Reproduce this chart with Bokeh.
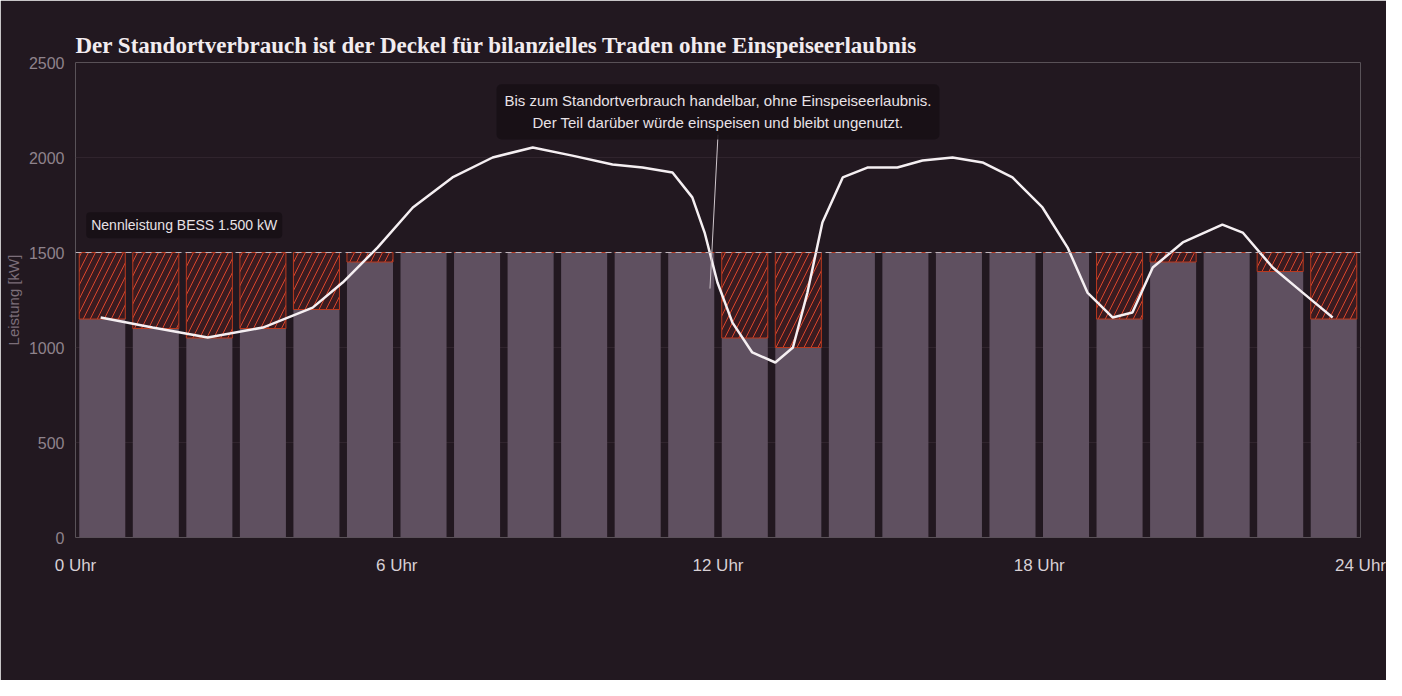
from bokeh.plotting import figure
from bokeh.models import (ColumnDataSource, Label, Legend, LegendItem, Span,
                          FixedTicker, Range1d)
from bokeh.embed import file_html
from bokeh.resources import INLINE

hours = list(range(24))
usable = [1150, 1100, 1050, 1100, 1200, 1450, 1500, 1500, 1500, 1500, 1500, 1500,
          1050, 1000, 1500, 1500, 1500, 1500, 1500, 1150, 1450, 1500, 1400, 1150]
capacity = 1500
line_h = [0.47, 1.44, 2.47, 3.5, 4.43, 4.99, 5.64, 6.3, 7.04, 7.79, 8.54, 9.28, 10.03,
          10.59, 11.15, 11.52, 11.75, 11.99, 12.27, 12.64, 13.07, 13.4, 13.67, 13.95,
          14.33, 14.79, 15.35, 15.82, 16.38, 16.94, 17.5, 18.06, 18.53, 18.9, 19.37,
          19.74, 20.12, 20.68, 21.42, 21.8, 22.36, 22.92, 23.48]
line_v = [1158, 1105, 1053, 1105, 1210, 1342, 1526, 1737, 1895, 2000, 2053, 2010, 1963,
          1947, 1921, 1790, 1605, 1342, 1131, 974, 921, 1000, 1289, 1658,
          1895, 1947, 1947, 1984, 2000, 1974, 1895, 1737, 1526, 1289, 1158,
          1184, 1421, 1553, 1647, 1605, 1421, 1289, 1158]
x_ticks = [0, 6, 12, 18, 24]
x_labels = ["0 Uhr", "6 Uhr", "12 Uhr", "18 Uhr", "24 Uhr"]

BG = "#221820"
p = figure(width=1386, height=680, output_backend="svg", toolbar_location=None,
           x_range=Range1d(0, 24), y_range=Range1d(0, 2500),
           title="Der Standortverbrauch ist der Deckel für bilanzielles Traden ohne Einspeiseerlaubnis",
           min_border_left=75, min_border_right=26, min_border_top=62, min_border_bottom=143,
           background_fill_color=BG, border_fill_color=BG, outline_line_color=None)
p.title.text_font = "Liberation Serif"
p.title.text_font_size = "23px"
p.title.text_color = "#f2ecef"
p.title.offset = 0

src = ColumnDataSource(dict(x=[h + 0.5 for h in hours], top=usable,
                            cap=[capacity] * 24))
r_use = p.vbar(x="x", top="top", bottom=0, width=0.86, source=src,
               fill_color="#5f5060", line_color=None)
r_hatch = p.vbar(x="x", top="cap", bottom="top", width=0.86, source=src,
                 fill_color="#3a1b20", line_color="#b8391f", line_width=1,
                 hatch_pattern="/", hatch_color="#d9452b", hatch_scale=14, hatch_weight=1)
p.add_layout(Span(location=capacity, dimension="width", line_color="#bdb3ba",
                  line_dash="6 4", line_width=1.2))
r_line = p.line(line_h, line_v, line_color="#f5eff2", line_width=2.5)

p.add_layout(Label(x=0.2, y=1575, text="Nennleistung BESS 1.500 kW",
                   text_color="#e8e2e6", text_font="Liberation Sans", text_font_size="14px",
                   background_fill_color="#160f15", background_fill_alpha=0.85,
                   padding=5, border_radius=4, text_baseline="bottom"))
p.add_layout(Label(x=12.0, y=2240,
                   text="Bis zum Standortverbrauch handelbar, ohne Einspeiseerlaubnis.\nDer Teil darüber würde einspeisen und bleibt ungenutzt.",
                   text_align="center", text_baseline="middle",
                   text_color="#e8e2e6", text_font="Liberation Sans", text_font_size="15px",
                   background_fill_color="#160f15", background_fill_alpha=0.85,
                   padding=8, border_radius=5, text_line_height=1.3))
seg = ColumnDataSource(dict(x0=[12.0], y0=[2120], x1=[11.85], y1=[1310]))
p.segment("x0", "y0", "x1", "y1", source=seg, line_color="#cfc6cc", line_width=1)

p.xaxis.ticker = FixedTicker(ticks=x_ticks)
p.xaxis.major_label_overrides = {t: l for t, l in zip(x_ticks, x_labels)}
p.yaxis.ticker = FixedTicker(ticks=[0, 500, 1000, 1500, 2000, 2500])
for ax in (p.xaxis, p.yaxis):
    ax.axis_line_color = None
    ax.major_tick_line_color = None
    ax.minor_tick_line_color = None
    ax.major_label_text_font = "Liberation Sans"
p.xaxis.major_label_text_font_size = "17px"
p.xaxis.major_label_text_color = "#d8d0d5"
p.xaxis.major_label_standoff = 12
p.yaxis.major_label_text_font_size = "16px"
p.yaxis.major_label_text_color = "#8f838c"
p.yaxis.axis_label = "Leistung [kW]"
p.yaxis.axis_label_text_color = "#7c6e79"
p.yaxis.axis_label_text_font = "Liberation Sans"
p.yaxis.axis_label_text_font_style = "normal"
p.yaxis.axis_label_text_font_size = "15px"
p.yaxis.axis_label_standoff = 4
p.xgrid.grid_line_color = None
p.ygrid.grid_line_color = "#3a2d37"
p.ygrid.grid_line_alpha = 0.6

legend = Legend(items=[
    LegendItem(label="Nutzbar: verdrängt den Eigenbezug", renderers=[r_use]),
    LegendItem(label="Nicht nutzbar: würde einspeisen", renderers=[r_hatch]),
    LegendItem(label="Standortverbrauch", renderers=[r_line]),
], orientation="horizontal", location=(-5, -112), spacing=95,
    background_fill_alpha=0, border_line_color=None,
    label_text_color="#e0d9dd", label_text_font="Liberation Sans", label_text_font_size="17px",
    glyph_width=24, glyph_height=24, margin=0, padding=0, label_standoff=8)
p.add_layout(legend)

open("out.html", "w").write(file_html(p, INLINE))
